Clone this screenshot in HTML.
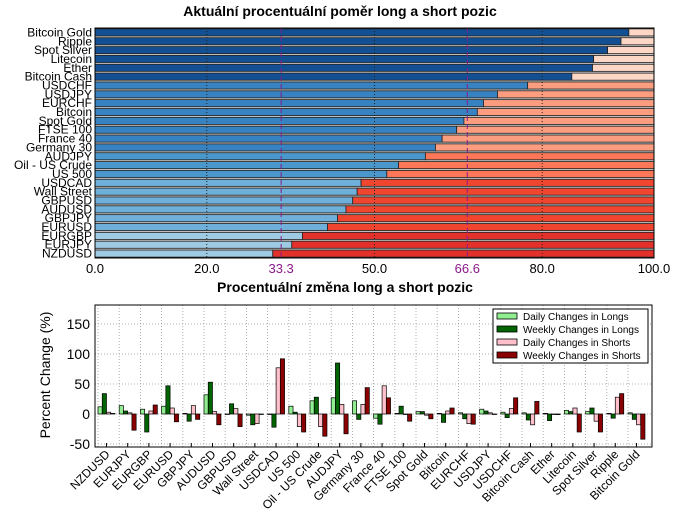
<!DOCTYPE html>
<html><head><meta charset="utf-8">
<style>
html,body{margin:0;padding:0;background:#fff;}
svg{display:block;font-family:"Liberation Sans","DejaVu Sans",sans-serif;}
</style></head>
<body>
<svg id="c" width="680" height="515" viewBox="0 0 680 515">
<rect x="0" y="0" width="680" height="515" fill="#fff"/>
<text x="340" y="16" text-anchor="middle" font-size="14" font-weight="bold">Aktuální procentuální poměr long a short pozic</text>
<text x="345" y="292" text-anchor="middle" font-size="14" font-weight="bold">Procentuální změna long a short pozic</text>
<text transform="translate(50,375) rotate(-90)" text-anchor="middle" font-size="14">Percent Change (%)</text>
<g id="top"></g>
<g id="bot"></g>
</svg>
<script>
const NS="http://www.w3.org/2000/svg";
// ---- Top chart data ----
const topCats=["Bitcoin Gold","Ripple","Spot Silver","Litecoin","Ether","Bitcoin Cash","USDCHF","USDJPY","EURCHF","Bitcoin","Spot Gold","FTSE 100","France 40","Germany 30","AUDJPY","Oil - US Crude","US 500","USDCAD","Wall Street","GBPUSD","AUDUSD","GBPJPY","EURUSD","EURGBP","EURJPY","NZDUSD"];
const longPct=[95.5,94.1,91.7,89.2,89.0,85.3,77.4,72.0,69.5,68.4,66.0,64.7,62.1,60.9,59.1,54.3,52.2,47.6,46.9,46.1,44.9,43.4,41.6,37.1,35.2,31.8];
const topTicks=[0,20,33.3,50,66.6,80,100];
const topTickLabels=["0.0","20.0","33.3","50.0","66.6","80.0","100.0"];
// ---- Bottom chart data ----
const botCats=["NZDUSD","EURJPY","EURGBP","EURUSD","GBPJPY","AUDUSD","GBPUSD","Wall Street","USDCAD","US 500","Oil - US Crude","AUDJPY","Germany 30","France 40","FTSE 100","Spot Gold","Bitcoin","EURCHF","USDJPY","USDCHF","Bitcoin Cash","Ether","Litecoin","Spot Silver","Ripple","Bitcoin Gold"];
const dailyLongs=[12,14,8,13,1,32,0,-2,0,13,22,27,22,-7,1,4,1,2,8,3,2,1,6,4,1,2];
const weeklyLongs=[34,5,-30,47,-12,53,17,-18,-22,3,28,85,-9,-17,13,4,-14,-8,5,-6,-10,-11,4,10,-7,-9];
const dailyShorts=[3,2,5,10,14,4,9,-16,77,-21,-21,16,16,47,0,-2,5,-16,2,9,-18,0,10,-12,28,-18];
const weeklyShorts=[1,-27,15,-13,-9,-18,-21,0,92,-30,-37,-33,44,27,-12,-8,10,-17,0,27,21,-1,-30,-30,34,-42];
const yTicks=[-50,0,50,100,150];

function el(tag,attrs,parent){const e=document.createElementNS(NS,tag);for(const k in attrs)e.setAttribute(k,attrs[k]);parent.appendChild(e);return e;}

// ---- Top chart ----
const T=document.getElementById('top');
const tx0=95,tx1=654,ty0=28,ty1=258;
const tX=v=>tx0+(v/100)*(tx1-tx0);
const rowH=(ty1-ty0)/topCats.length;
const tY=i=>ty0+i*rowH;
function longColor(v){if(v>=80)return '#124f93';if(v>=60)return '#3783c2';if(v>=50)return '#4a97cc';if(v>=40)return '#6eb0da';return '#9ecae3';}
function shortColor(v){if(v>=80)return '#fdd7c6';if(v>=60)return '#fc9d7f';if(v>=50)return '#fb7758';if(v>=40)return '#f0462f';return '#e2302a';}
const bg=el('rect',{x:tx0,y:ty0,width:tx1-tx0,height:ty1-ty0,fill:'#c8c8c8'},T);


topCats.forEach((c,i)=>{
  const v=longPct[i];
  const y=tY(i)+rowH*0.1,h=rowH*0.8;
  const lb=el('rect',{x:tX(0),y:y,width:tX(v)-tX(0),height:h,fill:longColor(v),stroke:'#222','stroke-width':0.8},T);
  
  
  const sb=el('rect',{x:tX(v),y:y,width:tX(100)-tX(v),height:h,fill:shortColor(v),stroke:'#222','stroke-width':0.8},T);
  
  
  const lt=el('text',{x:tx0-3,y:tY(i)+rowH*0.5+4,'text-anchor':'end','font-size':12},T);
  lt.textContent=c;
  
  
});
topTicks.forEach((v,i)=>{
  const purple=(v===33.3||v===66.6);
  if(v>0&&v<100){
    const g=el('line',{x1:tX(v),x2:tX(v),y1:ty0,y2:ty1,stroke:purple?'#8b1a8b':'#222','stroke-width':1,'stroke-dasharray':purple?'5,3':'1,2'},T);
    
    
  }
  const tl=el('text',{x:tX(v),y:273,'text-anchor':'middle','font-size':13,fill:purple?'#8b1a8b':'#000'},T);
  tl.textContent=topTickLabels[i];
  
  
});
const tf=el('rect',{x:tx0,y:ty0,width:tx1-tx0,height:ty1-ty0,fill:'none',stroke:'#000','stroke-width':1},T);



// ---- Bottom chart ----
const B=document.getElementById('bot');
const bx0=95,bx1=652,by0=305,by1=447;
const slot0=98,slotW=21.2;
const bY=v=>414-v*0.6;
const gx=i=>slot0+i*slotW;
botCats.forEach((c,i)=>{
  const g=el('line',{x1:gx(i),x2:gx(i),y1:by0,y2:by1,stroke:'#999','stroke-width':0.8,'stroke-dasharray':'1,2'},B);
  
  
});
yTicks.forEach(v=>{
  const g=el('line',{x1:bx0,x2:bx1,y1:bY(v),y2:bY(v),stroke:'#999','stroke-width':0.8,'stroke-dasharray':'1,2'},B);
  
  
  const t=el('text',{x:bx0-5,y:bY(v)+5,'text-anchor':'end','font-size':14},B);
  t.textContent=String(v);
  
  
});
const series=[[dailyLongs,'#90ee90','daily-long-bar'],[weeklyLongs,'#006400','weekly-long-bar'],[dailyShorts,'#ffc0cb','daily-short-bar'],[weeklyShorts,'#8b0000','weekly-short-bar']];
const bw=slotW*0.2;
botCats.forEach((c,i)=>{
  series.forEach((s,k)=>{
    const v=s[0][i];
    const y=Math.min(bY(0),bY(v)),h=Math.abs(bY(v)-bY(0));
    const r=el('rect',{x:gx(i)+k*bw,y:y,width:bw,height:Math.max(h,0.5),fill:s[1],stroke:'#000','stroke-width':0.7},B);
    
    
  });
  const tx=gx(i)+slotW*0.4;
  const tk=el('line',{x1:tx,x2:tx,y1:by1,y2:by1-4,stroke:'#000'},B);
  
  
  const t=el('text',{x:0,y:0,'text-anchor':'end','font-size':12,transform:'translate('+(tx+4)+','+(by1+8)+') rotate(-45)'},B);
  t.textContent=c;
  
  
});
const bf=el('rect',{x:bx0,y:by0,width:bx1-bx0,height:by1-by0,fill:'none',stroke:'#000','stroke-width':1},B);


// legend
const L=el('g',{},B);


el('rect',{x:493,y:309,width:155,height:54,fill:'#fff',stroke:'#000','stroke-width':1},L);
const legTxt=['Daily Changes in Longs','Weekly Changes in Longs','Daily Changes in Shorts','Weekly Changes in Shorts'];
series.forEach((s,k)=>{
  const y=313+k*13;
  const sw=el('rect',{x:497,y:y,width:20,height:6,fill:s[1],stroke:'#000','stroke-width':0.8},L);
  
  
  const t=el('text',{x:523,y:y+7,'font-size':10},L);
  t.textContent=legTxt[k];
  
  
});
</script>
</body></html>
